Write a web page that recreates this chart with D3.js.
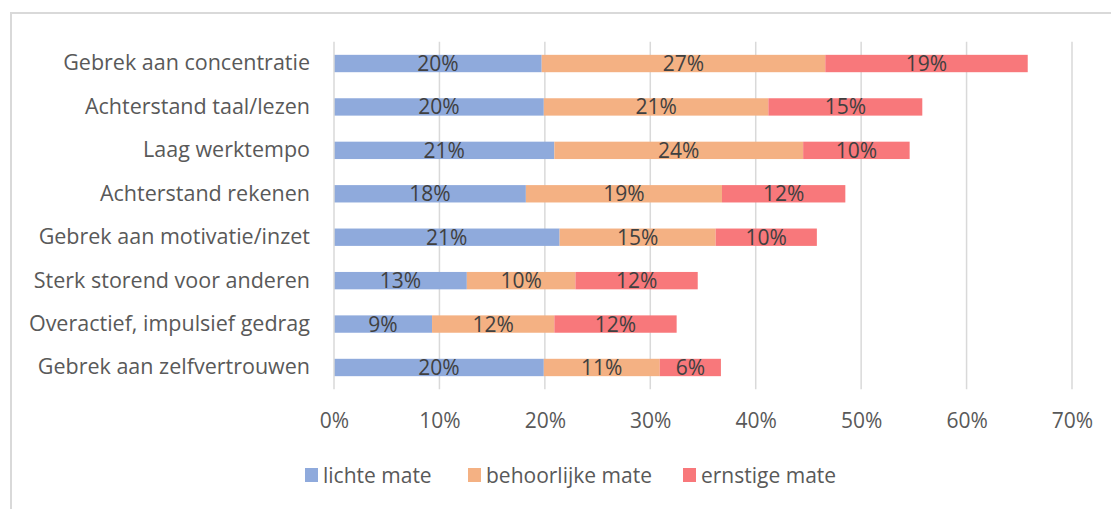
<!DOCTYPE html>
<html>
<head>
<meta charset="utf-8">
<script src="https://cdn.jsdelivr.net/npm/d3@7"></script>
<style>
  html, body { margin: 0; padding: 0; background: #fff; }
  svg { display: block; font-family: "Open Sans", sans-serif; }
</style>
</head>
<body>
<svg id="chart" width="1111" height="509"></svg>
<script>
// Problem categories, top to bottom
const categories = [
  "Gebrek aan concentratie",
  "Achterstand taal/lezen",
  "Laag werktempo",
  "Achterstand rekenen",
  "Gebrek aan motivatie/inzet",
  "Sterk storend voor anderen",
  "Overactief, impulsief gedrag",
  "Gebrek aan zelfvertrouwen"
];

// Share of pupils per degree (percent)
const lichteMate       = [19.7, 19.9, 20.9, 18.2, 21.4, 12.6, 9.3, 19.9];
const behoorlijkeMate  = [26.9, 21.3, 23.6, 18.6, 14.8, 10.3, 11.6, 11.0];
const ernstigeMate     = [19.2, 14.6, 10.1, 11.7, 9.6, 11.6, 11.6, 5.8];

const seriesNames  = ["lichte mate", "behoorlijke mate", "ernstige mate"];
const seriesColors = ["#8FAADC", "#F4B183", "#F8787B"];
const xTicks = [0, 10, 20, 30, 40, 50, 60, 70];

const FONT = "'Open Sans', sans-serif";
const FS = 21;

const svg = d3.select("#chart");

// outer chart frame
svg.append("rect")
  .attr("x", 11).attr("y", 13)
  .attr("width", 1300).attr("height", 700)
  .attr("fill", "none")
  .attr("stroke", "#D9D9D9")
  .attr("stroke-width", 2);

const plot = { left: 334, right: 1072, top: 41.8, bottom: 389.2 };

const x = d3.scaleLinear().domain([0, 70]).range([plot.left, plot.right]);
const y = d3.scaleBand().domain(categories).range([plot.top, plot.bottom])
  .paddingInner(0.6).paddingOuter(0.3);

// table for stacking
const rows = categories.map((c, i) => ({
  category: c,
  "lichte mate": lichteMate[i],
  "behoorlijke mate": behoorlijkeMate[i],
  "ernstige mate": ernstigeMate[i]
}));
const stacked = d3.stack().keys(seriesNames)(rows);

// vertical gridlines
svg.append("g")
  .selectAll("line")
  .data(xTicks.slice(1))
  .join("line")
  .attr("x1", d => x(d)).attr("x2", d => x(d))
  .attr("y1", plot.top).attr("y2", plot.bottom)
  .attr("stroke", "#D9D9D9")
  .attr("stroke-width", 1.5);

// bars
const layers = svg.append("g")
  .selectAll("g")
  .data(stacked)
  .join("g")
  .attr("fill", (d, i) => seriesColors[i]);

layers.selectAll("rect")
  .data(d => d)
  .join("rect")
  .attr("x", d => x(d[0]))
  .attr("y", d => y(d.data.category))
  .attr("width", d => x(d[1]) - x(d[0]))
  .attr("height", y.bandwidth());

// value labels in bar segments
layers.selectAll("text")
  .data(d => d.map(v => ({ v, key: d.key })))
  .join("text")
  .attr("x", d => (x(d.v[0]) + x(d.v[1])) / 2)
  .attr("y", d => y(d.v.data.category) + y.bandwidth() / 2)
  .attr("dy", "0.36em")
  .attr("text-anchor", "middle")
  .attr("fill", "#404040")
  .attr("font-size", FS)
  .text(d => Math.round(d.v.data[d.key]) + "%");

// value axis line at 0%
svg.append("line")
  .attr("x1", x(0)).attr("x2", x(0))
  .attr("y1", plot.top).attr("y2", plot.bottom)
  .attr("stroke", "#D9D9D9")
  .attr("stroke-width", 1.5);

// category axis
const yAxis = svg.append("g")
  .attr("transform", `translate(${plot.left - 24},0)`)
  .call(d3.axisLeft(y).tickSize(0).tickPadding(0));
yAxis.select(".domain").remove();
yAxis.selectAll("text")
  .attr("fill", "#595959")
  .attr("font-size", 21.5)
  .attr("font-family", FONT);

// percentage axis
const xAxis = svg.append("g")
  .attr("transform", `translate(0,${plot.bottom})`)
  .call(d3.axisBottom(x).tickValues(xTicks).tickFormat(d => d + "%").tickSize(0).tickPadding(24));
xAxis.select(".domain").remove();
xAxis.selectAll("text")
  .attr("fill", "#595959")
  .attr("font-size", FS)
  .attr("font-family", FONT);

// legend
const legendX = [305, 468, 683];
const legend = svg.append("g")
  .selectAll("g")
  .data(seriesNames)
  .join("g")
  .attr("transform", (d, i) => `translate(${legendX[i]},475)`);
legend.append("rect")
  .attr("x", 0).attr("y", -7)
  .attr("width", 13).attr("height", 14)
  .attr("fill", (d, i) => seriesColors[i]);
legend.append("text")
  .attr("x", 18).attr("y", 0)
  .attr("dy", "0.36em")
  .attr("fill", "#595959")
  .attr("font-size", FS)
  .text(d => d);
</script>
</body>
</html>
